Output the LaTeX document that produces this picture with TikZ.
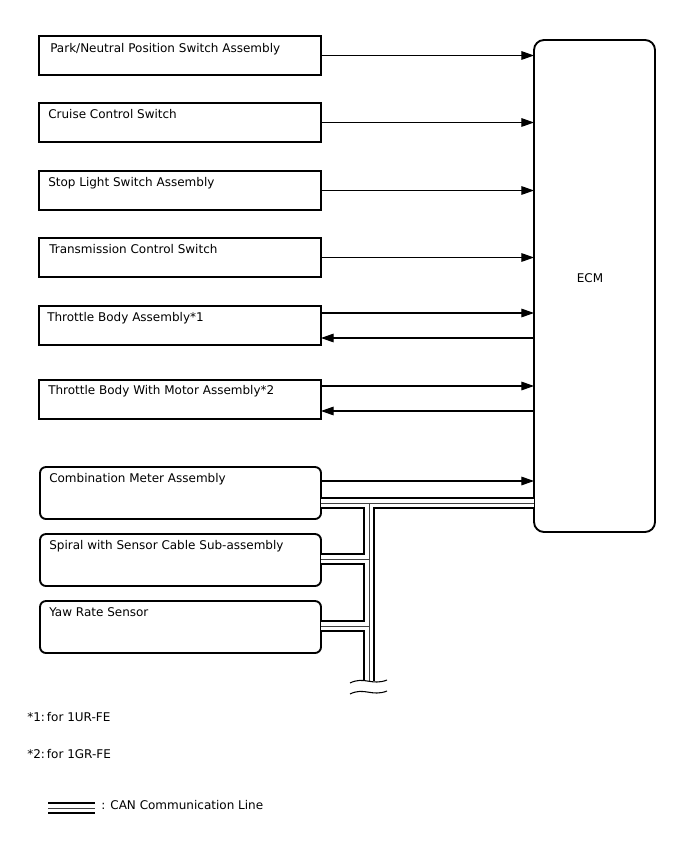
\documentclass[tikz,border=0pt]{standalone}
\usepackage{fontspec}
\setmainfont{DejaVu Sans}
\usetikzlibrary{calc,arrows.meta}
\begin{document}
\begin{tikzpicture}[x=0.75pt,y=-0.75pt,
  box/.style={draw,line width=1.4pt,minimum width=211.5pt,minimum height=29.25pt,anchor=north west,inner sep=0pt,outer sep=0pt},
  rbox/.style={draw,line width=1.4pt,rounded corners=4.5pt,minimum width=210.75pt,minimum height=39pt,anchor=north west,inner sep=0pt,outer sep=0pt},
  lbl/.style={anchor=north west,inner sep=0pt,font=\fontsize{9pt}{11pt}\selectfont},
  txt/.style={anchor=west,inner sep=0pt,font=\fontsize{9pt}{11pt}\selectfont},
  arr/.style={line width=0.8pt,-{Triangle[length=9.5pt,width=6.5pt]}},
  canouter/.style={line width=8.6pt,black},
  caninner/.style={line width=6.4pt,white},
  canmid/.style={line width=0.7pt,black!75},
  wave/.style={line width=0.8pt}]
\useasboundingbox (0,0) rectangle (688,852);
% ECM
\node[draw,line width=1.4pt,rounded corners=7.5pt,minimum width=90.75pt,minimum height=369pt,anchor=north west,inner sep=0pt,outer sep=0pt] (ecm) at (534,40) {};
\node[font=\fontsize{9pt}{11pt}\selectfont,inner sep=0pt] (ecmt) at (590,278) {ECM};
% boxes
\node[box] (pn) at (39,36) {};
\node[lbl] (pnt) at (50,43) {Park/Neutral Position Switch Assembly};
\node[box] (cc) at (39,103) {};
\node[lbl] (cct) at (48,109) {Cruise Control Switch};
\node[box] (sl) at (39,171) {};
\node[lbl] (slt) at (48,177) {Stop Light Switch Assembly};
\node[box] (tc) at (39,238) {};
\node[lbl] (tct) at (49,244) {Transmission Control Switch};
\node[box] (tb) at (39,306) {};
\node[lbl] (tbt) at (47,312) {Throttle Body Assembly*1};
\node[box] (tm) at (39,380) {};
\node[lbl] (tmt) at (48,385) {Throttle Body With Motor Assembly*2};
\node[rbox] (cm) at (40,467) {};
\node[lbl] (cmt) at (49,473) {Combination Meter Assembly};
\node[rbox] (sp) at (40,534) {};
\node[lbl] (spt) at (49,540) {Spiral with Sensor Cable Sub-assembly};
\node[rbox] (yr) at (40,601) {};
\node[lbl] (yrt) at (49,607) {Yaw Rate Sensor};
% arrows
\draw[arr] (pn.east) -- (pn.east -| ecm.west);
\draw[arr] (cc.east) -- (cc.east -| ecm.west);
\draw[arr] (sl.east) -- (sl.east -| ecm.west);
\draw[arr] (tc.east) -- (tc.east -| ecm.west);
\coordinate (tba) at ($(tb.east)+(0,-12.5)$);
\coordinate (tbb) at ($(tb.east)+(0,12.5)$);
\draw[arr] (tba) -- (tba -| ecm.west);
\draw[arr] (tbb -| ecm.west) -- (tbb);
\coordinate (tma) at ($(tm.east)+(0,-13.5)$);
\coordinate (tmb) at ($(tm.east)+(0,11.5)$);
\draw[arr] (tma) -- (tma -| ecm.west);
\draw[arr] (tmb -| ecm.west) -- (tmb);
\coordinate (cma) at ($(cm.east)+(0,-12)$);
\draw[arr] (cma) -- (cma -| ecm.west);
% CAN bus
\coordinate (b1) at ($(cm.east)+(0,10)$);
\coordinate (b2) at (b1 -| ecm.west);
\coordinate (t1) at (369,503);
\coordinate (t2) at (369,681);
\coordinate (s1) at ($(sp.east)+(0,-1)$);
\coordinate (s2) at (s1 -| t1);
\coordinate (y1) at ($(yr.east)+(0,-1)$);
\coordinate (y2) at (y1 -| t1);
\coordinate (l1) at (48,808);
\coordinate (l2) at (95,808);
\foreach \st in {canouter,caninner,canmid}
  \draw[\st] (b1) -- (b2) (t1) -- (t2) (s1) -- (s2) (y1) -- (y2) (l1) -- (l2);
% break marks
\draw[wave] (350,683) .. controls (364,676) and (372,686) .. (387,680);
\draw[wave] (350,694) .. controls (364,687) and (372,697) .. (387,691);
% legend and notes
\node[txt] (n1) at (27,717) {*1:\,for 1UR-FE};
\node[txt] (n2) at (27,754) {*2:\,for 1GR-FE};
\node[txt] (lg) at (101,805) {: CAN Communication Line};
\end{tikzpicture}
\end{document}
